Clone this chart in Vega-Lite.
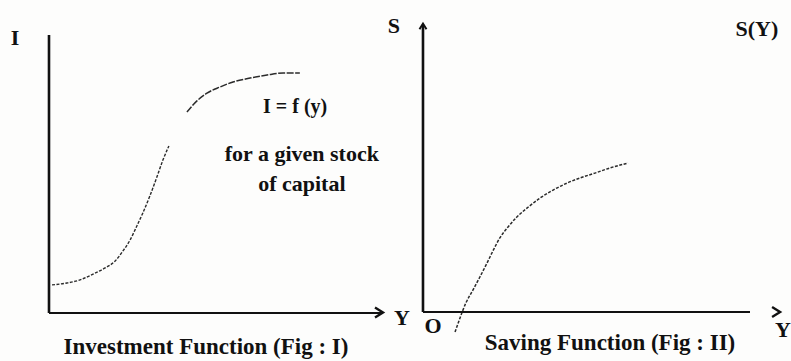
{
  "$schema": "https://vega.github.io/schema/vega-lite/v6.json",
  "padding": 0,
  "background": "#fdfdfc",
  "spacing": 0,
  "bounds": "flush",
  "config": {
    "view": {"stroke": null},
    "text": {"font": "Liberation Serif", "fontWeight": "bold", "color": "#111111", "baseline": "alphabetic"}
  },
  "datasets": {
    "investment": [
      {"y_income": 0.09, "invest": 1.01, "piece": "lower"},
      {"y_income": 0.54, "invest": 1.08, "piece": "lower"},
      {"y_income": 0.93, "invest": 1.19, "piece": "lower"},
      {"y_income": 1.32, "invest": 1.40, "piece": "lower"},
      {"y_income": 1.68, "invest": 1.62, "piece": "lower"},
      {"y_income": 1.98, "invest": 1.87, "piece": "lower"},
      {"y_income": 2.19, "invest": 2.19, "piece": "lower"},
      {"y_income": 2.43, "invest": 2.63, "piece": "lower"},
      {"y_income": 2.63, "invest": 3.13, "piece": "lower"},
      {"y_income": 2.81, "invest": 3.60, "piece": "lower"},
      {"y_income": 3.02, "invest": 4.21, "piece": "lower"},
      {"y_income": 3.23, "invest": 4.89, "piece": "lower"},
      {"y_income": 3.41, "invest": 5.50, "piece": "lower"},
      {"y_income": 3.59, "invest": 6.01, "piece": "lower"},
      {"y_income": 4.13, "invest": 7.23, "piece": "upper"},
      {"y_income": 4.43, "invest": 7.63, "piece": "upper"},
      {"y_income": 4.73, "invest": 7.91, "piece": "upper"},
      {"y_income": 5.12, "invest": 8.13, "piece": "upper"},
      {"y_income": 5.51, "invest": 8.31, "piece": "upper"},
      {"y_income": 6.02, "invest": 8.45, "piece": "upper"},
      {"y_income": 6.53, "invest": 8.56, "piece": "upper"},
      {"y_income": 7.01, "invest": 8.63, "piece": "upper"},
      {"y_income": 7.51, "invest": 8.63, "piece": "upper"}
    ],
    "saving": [
      {"y_income": 0.98, "save": -0.70},
      {"y_income": 1.10, "save": -0.31},
      {"y_income": 1.31, "save": 0.31},
      {"y_income": 1.53, "save": 0.77},
      {"y_income": 1.74, "save": 1.22},
      {"y_income": 1.96, "save": 1.71},
      {"y_income": 2.14, "save": 2.13},
      {"y_income": 2.35, "save": 2.58},
      {"y_income": 2.60, "save": 2.96},
      {"y_income": 2.87, "save": 3.31},
      {"y_income": 3.18, "save": 3.62},
      {"y_income": 3.58, "save": 3.97},
      {"y_income": 3.98, "save": 4.25},
      {"y_income": 4.40, "save": 4.49},
      {"y_income": 4.80, "save": 4.67},
      {"y_income": 5.26, "save": 4.84},
      {"y_income": 5.72, "save": 5.02},
      {"y_income": 6.27, "save": 5.19}
    ],
    "axesLines": [
      {"x": 0, "y": 0, "x2": 0, "y2": 10, "axis": "vertical"},
      {"x": 0, "y": 0, "x2": 10, "y2": 0, "axis": "horizontal"}
    ],
    "investLabels": [
      {"x": -1.02, "y": 9.64, "text": "I", "role": "axis"},
      {"x": 10.57, "y": -0.43, "text": "Y", "role": "axis"},
      {"x": 7.37, "y": 7.19, "text": "I = f (y)", "role": "formula"},
      {"x": 7.57, "y": 5.47, "text": "for a given stock", "role": "note"},
      {"x": 7.57, "y": 4.39, "text": "of capital", "role": "note"},
      {"x": 4.70, "y": -1.47, "text": "Investment Function (Fig : I)", "role": "caption"}
    ],
    "savingLabels": [
      {"x": -0.89, "y": 9.72, "text": "S", "role": "axis"},
      {"x": 0.31, "y": -0.73, "text": "O", "role": "axis"},
      {"x": 11.01, "y": -0.87, "text": "Y", "role": "axis"},
      {"x": 10.21, "y": 9.62, "text": "S(Y)", "role": "note"},
      {"x": 5.72, "y": -1.32, "text": "Saving Function  (Fig : II)", "role": "caption"}
    ]
  },
  "hconcat": [
    {
      "width": 400,
      "height": 361,
      "layer": [
        {
          "data": {"name": "axesLines"},
          "mark": {"type": "rule", "color": "#111111", "strokeWidth": 2.6},
          "transform": [{"filter": "datum.axis === 'vertical'"}],
          "encoding": {
            "x": {"field": "x", "type": "quantitative", "scale": {"domain": [-1.467, 10.509], "nice": false, "zero": false}, "axis": null},
            "y": {"field": "y", "type": "quantitative", "scale": {"domain": [-1.727, 11.259], "nice": false, "zero": false}, "axis": null},
            "x2": {"field": "x2"},
            "y2": {"field": "y2"}
          }
        },
        {
          "data": {"name": "axesLines"},
          "mark": {"type": "rule", "color": "#111111", "strokeWidth": 2},
          "transform": [{"filter": "datum.axis === 'horizontal'"}],
          "encoding": {
            "x": {"field": "x", "type": "quantitative"},
            "y": {"field": "y", "type": "quantitative"},
            "x2": {"field": "x2"},
            "y2": {"field": "y2"}
          }
        },
        {
          "data": {"values": [{"x": 10, "y": 0.02}]},
          "mark": {"type": "point", "shape": "M-1.6,-1L0,0L-1.6,1", "size": 100, "filled": false, "stroke": "#111111", "strokeWidth": 2.4, "opacity": 1},
          "encoding": {
            "x": {"field": "x", "type": "quantitative"},
            "y": {"field": "y", "type": "quantitative"}
          }
        },
        {
          "data": {"name": "investment"},
          "transform": [{"filter": "datum.piece === 'lower'"}],
          "mark": {"type": "line", "interpolate": "monotone", "color": "#2b2b2b", "strokeWidth": 1.4, "strokeDash": [3, 1.5]},
          "encoding": {
            "x": {"field": "y_income", "type": "quantitative"},
            "y": {"field": "invest", "type": "quantitative"}
          }
        },
        {
          "data": {"name": "investment"},
          "transform": [{"filter": "datum.piece === 'upper'"}],
          "mark": {"type": "line", "interpolate": "monotone", "color": "#2b2b2b", "strokeWidth": 1.5, "strokeDash": [7, 1.5]},
          "encoding": {
            "x": {"field": "y_income", "type": "quantitative"},
            "y": {"field": "invest", "type": "quantitative"}
          }
        },
        {
          "data": {"name": "investLabels"},
          "transform": [{"filter": "datum.role === 'axis' || datum.role === 'note'"}],
          "mark": {"type": "text", "font": "Liberation Serif", "fontWeight": "bold", "fontSize": 22, "align": "center"},
          "encoding": {
            "x": {"field": "x", "type": "quantitative"},
            "y": {"field": "y", "type": "quantitative"},
            "text": {"field": "text"}
          }
        },
        {
          "data": {"name": "investLabels"},
          "transform": [{"filter": "datum.role === 'formula'"}],
          "mark": {"type": "text", "font": "Liberation Serif", "fontWeight": "bold", "fontSize": 20, "align": "center"},
          "encoding": {
            "x": {"field": "x", "type": "quantitative"},
            "y": {"field": "y", "type": "quantitative"},
            "text": {"field": "text"}
          }
        },
        {
          "data": {"name": "investLabels"},
          "transform": [{"filter": "datum.role === 'caption'"}],
          "mark": {"type": "text", "font": "Liberation Serif", "fontWeight": "bold", "fontSize": 23, "align": "center"},
          "encoding": {
            "x": {"field": "x", "type": "quantitative"},
            "y": {"field": "y", "type": "quantitative"},
            "text": {"field": "text"}
          }
        }
      ]
    },
    {
      "width": 391,
      "height": 361,
      "layer": [
        {
          "data": {"name": "saving"},
          "mark": {"type": "line", "interpolate": "monotone", "color": "#2b2b2b", "strokeWidth": 1.5, "strokeDash": [3, 1.5]},
          "encoding": {
            "x": {"field": "y_income", "type": "quantitative", "scale": {"domain": [-0.703, 11.254], "nice": false, "zero": false}, "axis": null},
            "y": {"field": "save", "type": "quantitative", "scale": {"domain": [-1.707, 10.871], "nice": false, "zero": false}, "axis": null}
          }
        },
        {
          "data": {"name": "axesLines"},
          "mark": {"type": "rule", "color": "#111111", "strokeWidth": 2.6},
          "transform": [{"filter": "datum.axis === 'vertical'"}],
          "encoding": {
            "x": {"field": "x", "type": "quantitative"},
            "y": {"field": "y", "type": "quantitative"},
            "x2": {"field": "x2"},
            "y2": {"field": "y2"}
          }
        },
        {
          "data": {"name": "axesLines"},
          "mark": {"type": "rule", "color": "#111111", "strokeWidth": 2},
          "transform": [{"filter": "datum.axis === 'horizontal'"}],
          "encoding": {
            "x": {"field": "x", "type": "quantitative"},
            "y": {"field": "y", "type": "quantitative"},
            "x2": {"field": "x2"},
            "y2": {"field": "y2"}
          }
        },
        {
          "data": {"values": [{"x": 0, "y": 10.05}]},
          "mark": {"type": "point", "shape": "M-1,1.6L0,0L1,1.6", "size": 49, "filled": false, "stroke": "#111111", "strokeWidth": 2, "opacity": 1},
          "encoding": {
            "x": {"field": "x", "type": "quantitative"},
            "y": {"field": "y", "type": "quantitative"}
          }
        },
        {
          "data": {"values": [{"x": 10.92, "y": 0.0}]},
          "mark": {"type": "point", "shape": "M-1.6,-1L0,0L-1.6,1", "size": 100, "filled": false, "stroke": "#111111", "strokeWidth": 2.4, "opacity": 1},
          "encoding": {
            "x": {"field": "x", "type": "quantitative"},
            "y": {"field": "y", "type": "quantitative"}
          }
        },
        {
          "data": {"name": "savingLabels"},
          "transform": [{"filter": "datum.role !== 'caption'"}],
          "mark": {"type": "text", "font": "Liberation Serif", "fontWeight": "bold", "fontSize": 22, "align": "center"},
          "encoding": {
            "x": {"field": "x", "type": "quantitative"},
            "y": {"field": "y", "type": "quantitative"},
            "text": {"field": "text"}
          }
        },
        {
          "data": {"name": "savingLabels"},
          "transform": [{"filter": "datum.role === 'caption'"}],
          "mark": {"type": "text", "font": "Liberation Serif", "fontWeight": "bold", "fontSize": 23, "align": "center"},
          "encoding": {
            "x": {"field": "x", "type": "quantitative"},
            "y": {"field": "y", "type": "quantitative"},
            "text": {"field": "text"}
          }
        }
      ]
    }
  ]
}
